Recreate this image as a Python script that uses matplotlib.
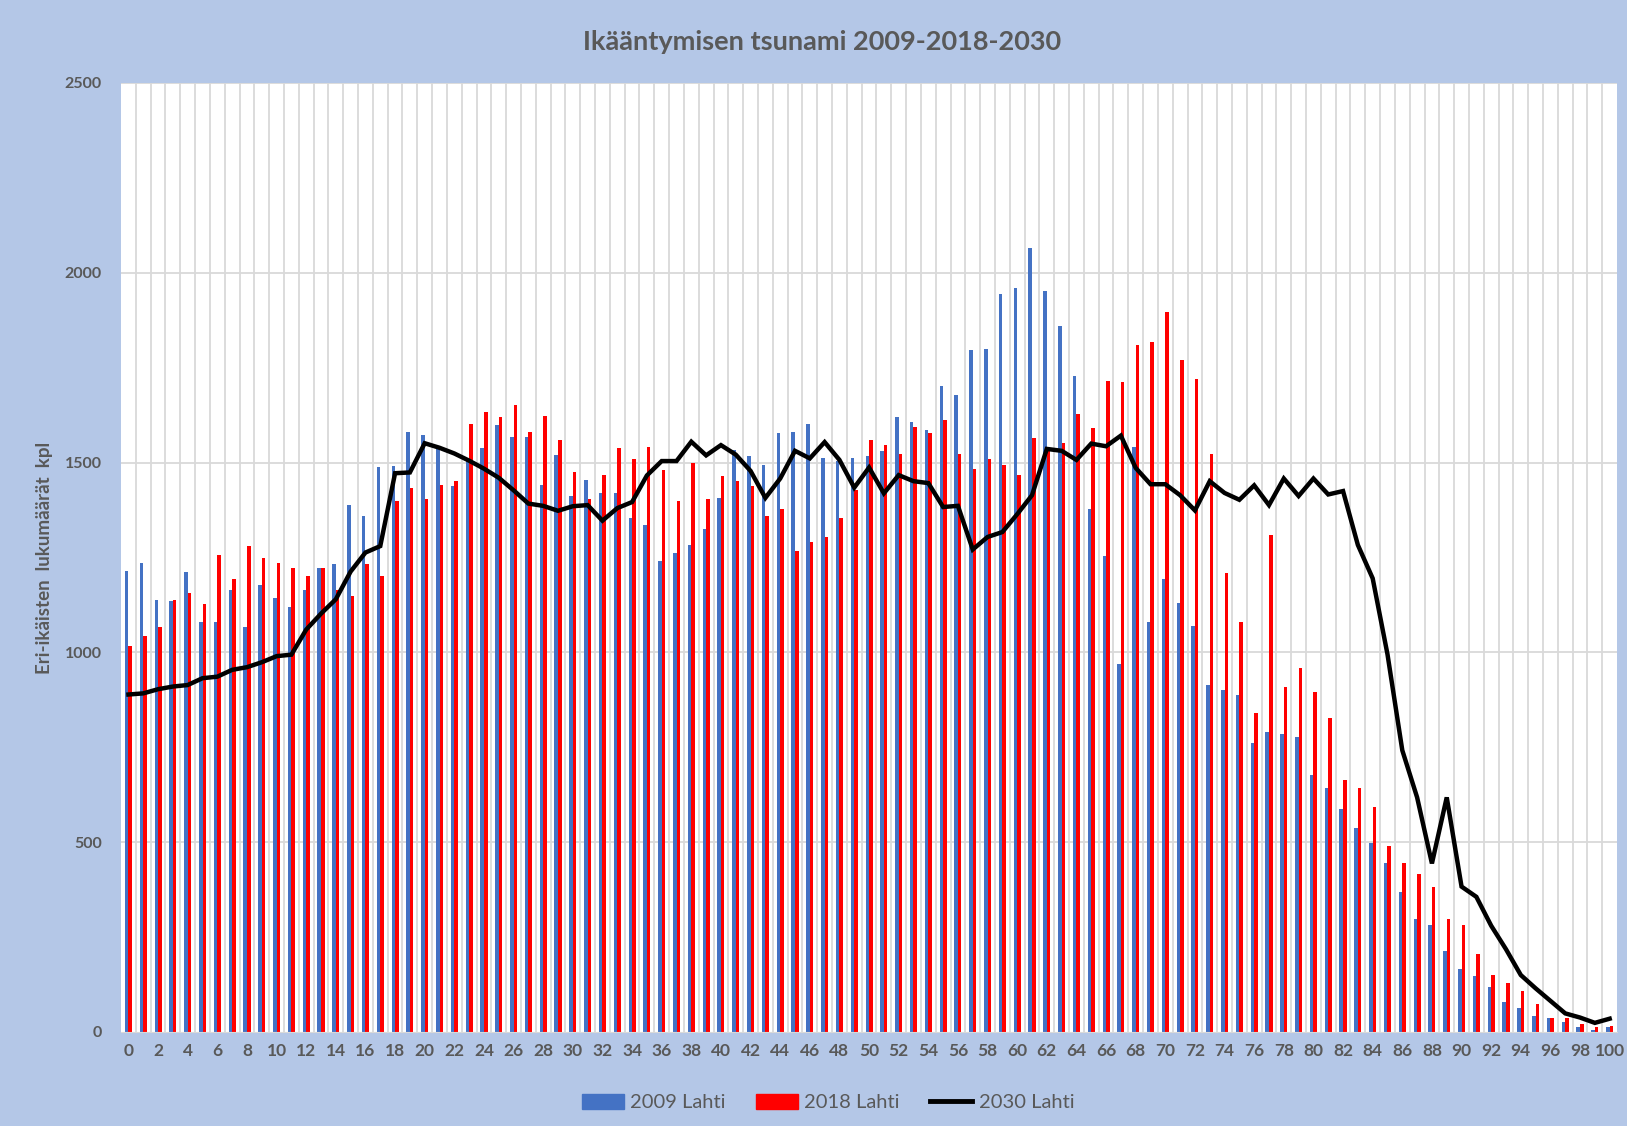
import numpy as np
import matplotlib
matplotlib.use("Agg")
import matplotlib.pyplot as plt
from matplotlib.patches import Patch
from matplotlib.lines import Line2D

plt.rcParams['font.family'] = ['Lato', 'DejaVu Sans']

ages = list(range(101))

# 2009 Lahti (blue bars)
v2009 = [1215, 1236, 1139, 1135, 1212, 1081, 1081, 1164, 1068, 1177,
         1144, 1119, 1164, 1223, 1233, 1387, 1358, 1488, 1492, 1581,
         1573, 1542, 1438, 1507, 1539, 1598, 1568, 1568, 1442, 1519,
         1413, 1455, 1421, 1421, 1354, 1336, 1241, 1261, 1282, 1325,
         1408, 1534, 1518, 1493, 1577, 1581, 1601, 1513, 1505, 1513,
         1518, 1531, 1619, 1606, 1586, 1703, 1679, 1796, 1800, 1943,
         1960, 2064, 1951, 1859, 1729, 1379, 1253, 969, 1540, 1081,
         1194, 1131, 1069, 913, 900, 888, 762, 791, 786, 778,
         678, 643, 588, 537, 499, 445, 369, 298, 281, 214,
         167, 147, 118, 80, 62, 41, 38, 25, 13, 4, 13]

# 2018 Lahti (red bars)
v2018 = [1017, 1043, 1068, 1139, 1156, 1127, 1257, 1194, 1279, 1248,
         1236, 1223, 1202, 1223, 1164, 1148, 1233, 1202, 1400, 1434,
         1403, 1442, 1451, 1601, 1632, 1619, 1652, 1581, 1622, 1560,
         1476, 1403, 1468, 1539, 1509, 1542, 1480, 1400, 1498, 1403,
         1464, 1451, 1438, 1358, 1379, 1266, 1290, 1303, 1354, 1429,
         1560, 1547, 1522, 1594, 1577, 1611, 1523, 1484, 1510, 1493,
         1467, 1564, 1530, 1551, 1627, 1590, 1716, 1711, 1809, 1817,
         1897, 1770, 1719, 1522, 1210, 1081, 841, 1308, 908, 959,
         896, 828, 664, 643, 593, 491, 445, 416, 381, 298,
         281, 205, 151, 130, 109, 74, 38, 38, 20, 13, 16]

# 2030 Lahti (black line)
v2030 = [889, 892, 903, 910, 914, 932, 936, 954, 961, 974,
         990, 994, 1060, 1102, 1140, 1213, 1263, 1280, 1472, 1474,
         1551, 1539, 1524, 1505, 1484, 1460, 1427, 1392, 1386, 1373,
         1385, 1388, 1347, 1380, 1396, 1466, 1504, 1504, 1555, 1519,
         1546, 1521, 1478, 1407, 1458, 1531, 1511, 1554, 1507, 1434,
         1487, 1419, 1467, 1451, 1446, 1383, 1386, 1271, 1304, 1317,
         1364, 1414, 1536, 1531, 1507, 1550, 1543, 1571, 1486, 1443,
         1443, 1414, 1374, 1451, 1420, 1402, 1440, 1388, 1458, 1412,
         1458, 1416, 1425, 1283, 1195, 995, 742, 618, 444, 618,
         383, 356, 280, 218, 150, 115, 82, 49, 38, 24, 35]

bg = "#B4C7E7"
grey = "#595959"
blue = "#4472C4"
red = "#FF0000"

fig = plt.figure(figsize=(16.27, 11.26), dpi=100, facecolor=bg)
ax = fig.add_axes([0.0744, 0.0835, 0.9195, 0.8428])
ax.set_facecolor("white")

x = np.array(ages)
w = 0.24
ax.bar(x - w / 2, v2009, width=w, color=blue, zorder=2)
ax.bar(x + w / 2, v2018, width=w, color=red, zorder=2)
ax.plot(x, v2030, color="black", linewidth=3.2, zorder=3, solid_joinstyle="miter")

# gridlines
for yv in range(500, 2501, 500):
    ax.axhline(yv, color="#D9D9D9", linewidth=1.3, zorder=1)
for xv in np.arange(0.5, 100.5, 1):
    ax.axvline(xv, color="#D9D9D9", linewidth=1.3, zorder=1)

ax.set_xlim(-0.5, 100.5)
ax.set_ylim(0, 2500)
ax.set_xticks(range(0, 101, 2))
ax.set_yticks(range(0, 2501, 500))
ax.tick_params(axis="x", length=0, colors=grey, labelsize=12.5, pad=8)
ax.tick_params(axis="y", length=0, colors=grey, labelsize=11.5, pad=14)
for lbl in ax.get_xticklabels() + ax.get_yticklabels():
    lbl.set_fontweight("bold")
for s in ["top", "right", "left"]:
    ax.spines[s].set_visible(False)
ax.spines["bottom"].set_color("#D9D9D9")

ax.set_ylabel("Eri-ikäisten  lukumäärät  kpl", color=grey, fontsize=13.5,
              fontweight="bold", labelpad=8)

fig.text(0.505, 0.963, "Ikääntymisen tsunami 2009-2018-2030", ha="center",
         va="center", fontsize=19.5, fontweight="bold", color=grey)

handles = [Patch(color=blue), Patch(color=red),
           Line2D([0], [0], color="black", linewidth=3.5)]
leg = fig.legend(handles, ["2009 Lahti", "2018 Lahti", "2030 Lahti"],
                 loc="center", bbox_to_anchor=(0.509, 0.021), ncol=3,
                 frameon=False, fontsize=14.5, handlelength=2.1,
                 handleheight=0.8, handletextpad=0.3, columnspacing=1.5)
for t in leg.get_texts():
    t.set_color(grey)

fig.savefig("out.png", dpi=100, facecolor=bg)
